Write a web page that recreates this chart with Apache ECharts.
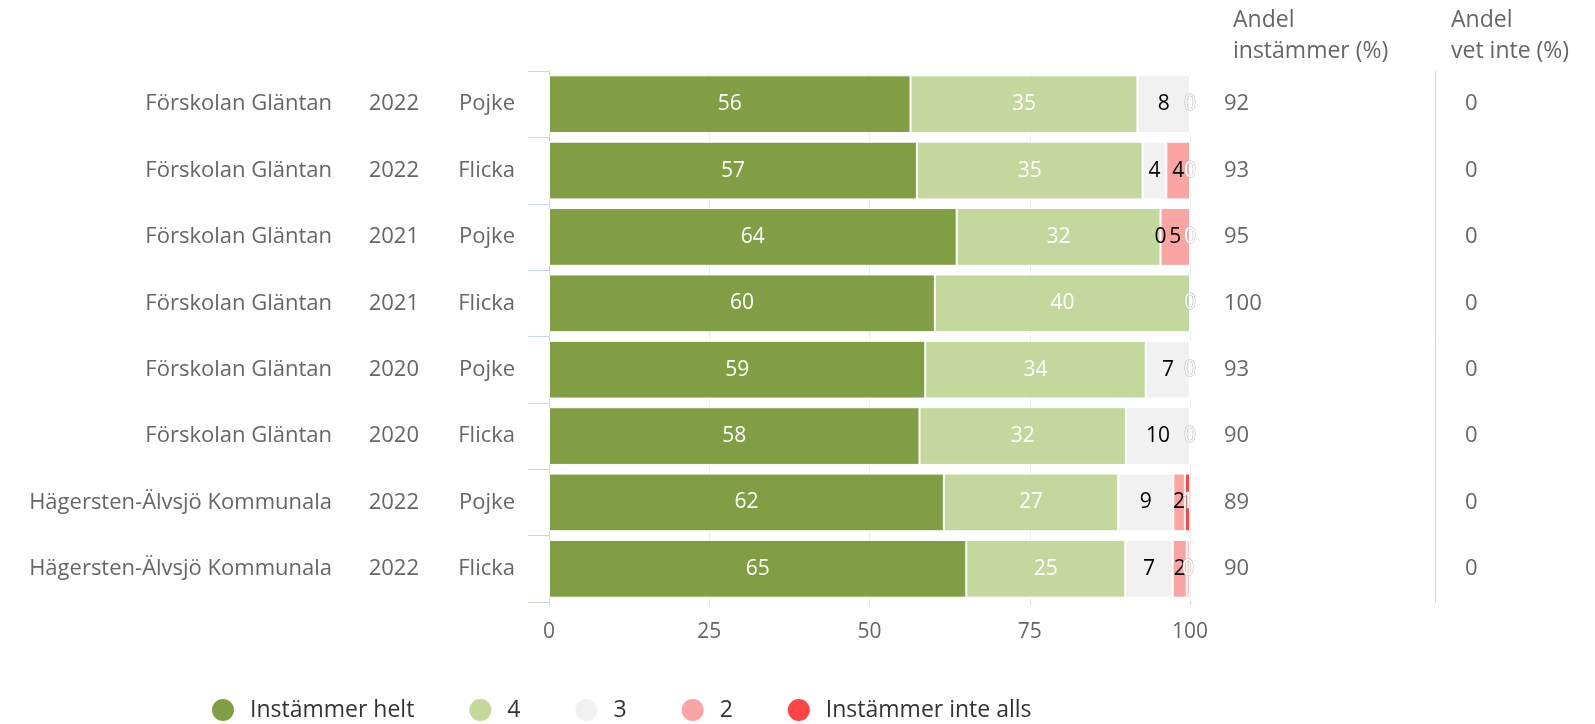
<!DOCTYPE html>
<html><head><meta charset="utf-8">
<script src="https://cdn.jsdelivr.net/npm/echarts@6/dist/echarts.min.js"></script>
<style>html,body{margin:0;padding:0;background:#fff}#c{width:1595px;height:724px}</style>
</head><body><div id="c"></div>
<script>
const units = ['Förskolan Gläntan','Förskolan Gläntan','Förskolan Gläntan','Förskolan Gläntan','Förskolan Gläntan','Förskolan Gläntan','Hägersten-Älvsjö Kommunala','Hägersten-Älvsjö Kommunala'];
const years = ['2022','2022','2021','2021','2020','2020','2022','2022'];
const genders = ['Pojke','Flicka','Pojke','Flicka','Pojke','Flicka','Pojke','Flicka'];
const seriesNames = ['Instämmer helt','4','3','2','Instämmer inte alls'];
const helt = [56.4, 57.4, 63.6, 60.2, 58.7, 57.8, 61.6, 65.1];
const four = [35.4, 35.2, 31.8, 39.8, 34.4, 32.2, 27.2, 24.8];
const three = [8.2, 3.7, 0, 0, 6.9, 10.0, 8.6, 7.4];
const two = [0, 3.7, 4.6, 0, 0, 0, 1.8, 2.2];
const inteAlls = [0, 0, 0, 0, 0, 0, 0.8, 0.4];
const andelInstammer = [92, 93, 95, 100, 93, 90, 89, 90];
const andelVetInte = [0, 0, 0, 0, 0, 0, 0, 0];
const xTicks = [0, 25, 50, 75, 100];

const colors = ['#829e44', '#c4d79c', '#f1f1f1', '#faa4a4', '#fe4545'];
const labelColors = ['#fff', '#fff', '#000', '#000', '#fff'];
const FONT = 'Open Sans';
const FS = 22;
const idx = units.map((_, i) => i);
const values = [helt, four, three, two, inteAlls];

const chart = echarts.init(document.getElementById('c'));
chart.setOption({
  animation: false,
  textStyle: {fontFamily: FONT},
  title: [
    {text: 'Andel\ninstämmer (%)', left: 1228, top: 0, textStyle: {fontFamily: FONT, fontSize: 23, fontWeight: 'normal', color: '#666', lineHeight: 31}},
    {text: 'Andel\nvet inte (%)', left: 1446, top: 0, textStyle: {fontFamily: FONT, fontSize: 23, fontWeight: 'normal', color: '#666', lineHeight: 31}}
  ],
  legend: {
    left: 205, top: 692, icon: 'circle', itemWidth: 24, itemHeight: 24, itemGap: 53,
    textStyle: {fontFamily: FONT, fontSize: 23, color: '#333', padding: [0, 0, 0, 10]},
    data: seriesNames
  },
  grid: {left: 549, right: 405, top: 71, bottom: 122},
  xAxis: {
    type: 'value', min: 0, max: 100, interval: 25,
    axisLine: {show: false},
    axisTick: {show: true, length: 3, lineStyle: {color: '#ccd6eb'}},
    splitLine: {show: true, lineStyle: {color: '#ececec'}},
    axisLabel: {fontFamily: FONT, fontSize: 21, color: '#666', margin: 20,
      formatter: v => xTicks.includes(v) ? String(v) : ''}
  },
  yAxis: [
    {
      type: 'category', inverse: true, data: idx,
      axisLine: {show: true, lineStyle: {color: '#ccd6eb'}},
      axisTick: {show: true, length: 21, lineStyle: {color: '#ccd6eb'}},
      axisLabel: {
        margin: 34,
        formatter: i => `{a|${units[i]}}{b|${years[i]}}{c|${genders[i]}}`,
        rich: {
          a: {fontFamily: FONT, fontSize: FS, color: '#666', width: 330, align: 'right'},
          b: {fontFamily: FONT, fontSize: FS, color: '#666', width: 87, align: 'right'},
          c: {fontFamily: FONT, fontSize: FS, color: '#666', width: 96, align: 'right'}
        }
      }
    },
    {
      type: 'category', inverse: true, position: 'right', data: andelInstammer.map(String),
      axisLine: {show: false}, axisTick: {show: false},
      axisLabel: {margin: 34, fontFamily: FONT, fontSize: FS, color: '#666'}
    },
    {
      type: 'category', inverse: true, position: 'right', offset: 245, data: andelVetInte.map(String),
      axisLine: {show: true, lineStyle: {color: '#ccd6eb'}}, axisTick: {show: false},
      axisLabel: {margin: 30, fontFamily: FONT, fontSize: FS, color: '#666'}
    }
  ],
  series: values.map((vals, s) => ({
    name: seriesNames[s], type: 'bar', stack: 'total', yAxisIndex: 0,
    barWidth: '87%',
    data: vals,
    itemStyle: {color: colors[s], borderColor: '#fff', borderWidth: 1},
    label: {
      show: true, position: 'inside',
      formatter: p => String(Math.round(p.value)),
      fontFamily: FONT, fontSize: 21, color: labelColors[s],
      textBorderColor: s === 4 ? '#bbb' : 'transparent', textBorderWidth: s === 4 ? 1 : 0
    },
    z: 2
  }))
});
</script></body></html>
